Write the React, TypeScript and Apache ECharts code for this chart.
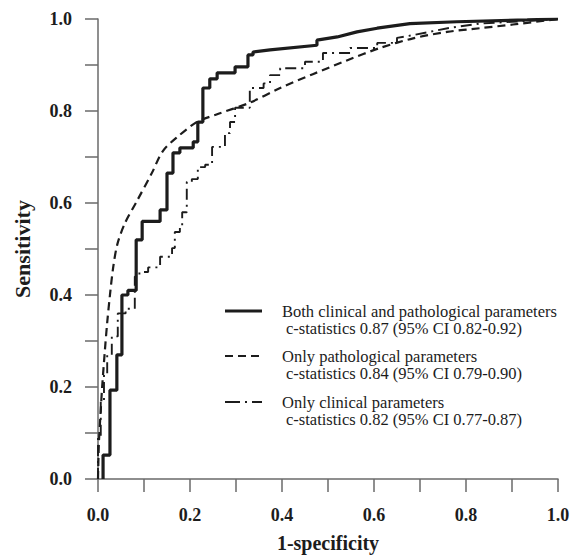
import React, { useEffect, useRef } from "react";
import * as echarts from "echarts";

const bothX = [0.011, 0.011, 0.026, 0.026, 0.041, 0.041, 0.052, 0.052, 0.065, 0.065, 0.083, 0.083, 0.096, 0.096, 0.135, 0.135, 0.15, 0.15, 0.163, 0.163, 0.178, 0.178, 0.207, 0.207, 0.217, 0.217, 0.228, 0.228, 0.243, 0.243, 0.259, 0.259, 0.298, 0.298, 0.326, 0.326, 0.337, 0.337, 0.374, 0.476, 0.476, 0.52, 0.563, 0.607, 0.678, 0.78, 0.933, 1.0];
const bothY = [0.0, 0.052, 0.052, 0.193, 0.193, 0.27, 0.27, 0.4, 0.4, 0.41, 0.41, 0.52, 0.52, 0.56, 0.56, 0.585, 0.585, 0.665, 0.665, 0.709, 0.709, 0.72, 0.72, 0.733, 0.733, 0.776, 0.776, 0.85, 0.85, 0.87, 0.87, 0.883, 0.883, 0.896, 0.896, 0.922, 0.922, 0.928, 0.933, 0.943, 0.954, 0.961, 0.972, 0.98, 0.99, 0.994, 0.998, 1.0];

const pathX = [0.0, 0.002, 0.006, 0.009, 0.015, 0.02, 0.026, 0.033, 0.042, 0.058, 0.085, 0.117, 0.141, 0.172, 0.215, 0.259, 0.33, 0.396, 0.467, 0.541, 0.613, 0.685, 0.759, 0.83, 0.902, 1.0];
const pathY = [0.0, 0.08, 0.15, 0.2, 0.28, 0.34, 0.4, 0.46, 0.51, 0.555, 0.605, 0.665, 0.713, 0.743, 0.776, 0.793, 0.818, 0.85, 0.88, 0.91, 0.937, 0.958, 0.972, 0.98, 0.988, 1.0];

const clinX = [0.0, 0.0, 0.006, 0.006, 0.013, 0.013, 0.02, 0.02, 0.03, 0.03, 0.043, 0.043, 0.06, 0.06, 0.08, 0.08, 0.09, 0.09, 0.109, 0.109, 0.135, 0.135, 0.161, 0.161, 0.167, 0.167, 0.178, 0.178, 0.183, 0.183, 0.193, 0.193, 0.204, 0.204, 0.217, 0.217, 0.233, 0.233, 0.248, 0.248, 0.276, 0.276, 0.287, 0.287, 0.298, 0.298, 0.33, 0.33, 0.36, 0.36, 0.374, 0.374, 0.396, 0.396, 0.45, 0.45, 0.489, 0.489, 0.548, 0.548, 0.607, 0.607, 0.65, 0.65, 0.685, 0.72, 0.76, 0.83, 0.9, 1.0];
const clinY = [0.0, 0.09, 0.09, 0.17, 0.17, 0.23, 0.23, 0.27, 0.27, 0.31, 0.31, 0.36, 0.36, 0.37, 0.37, 0.44, 0.44, 0.45, 0.45, 0.46, 0.46, 0.483, 0.483, 0.502, 0.502, 0.537, 0.537, 0.548, 0.548, 0.58, 0.58, 0.646, 0.646, 0.652, 0.652, 0.678, 0.678, 0.683, 0.683, 0.722, 0.722, 0.752, 0.752, 0.776, 0.776, 0.807, 0.807, 0.85, 0.85, 0.86, 0.86, 0.878, 0.878, 0.893, 0.893, 0.907, 0.907, 0.926, 0.926, 0.937, 0.937, 0.948, 0.948, 0.959, 0.965, 0.972, 0.98, 0.99, 0.994, 1.0];

const legendTitles = [
  "Both clinical and pathological parameters",
  "Only pathological parameters",
  "Only clinical parameters",
];
const legendStats = [
  "c-statistics 0.87 (95% CI 0.82-0.92)",
  "c-statistics 0.84 (95% CI 0.79-0.90)",
  "c-statistics 0.82 (95% CI 0.77-0.87)",
];

const SERIF = '"Liberation Serif", "Times New Roman", Times, serif';
const INK = "#1c1c1c";

const zip = (xs: number[], ys: number[]) => xs.map((x, i) => [x, ys[i]]);

export default function App() {
  const ref = useRef<HTMLDivElement>(null);
  useEffect(() => {
    if (!ref.current) return;
    const chart = echarts.init(ref.current, undefined, { renderer: "svg" });
    const lineStyles: any[] = [
      { width: 3.2, type: "solid" },
      { width: 2.2, type: [8, 5] },
      { width: 1.9, type: [11, 5, 2, 5] },
    ];
    const legendRows = [311, 356, 402];
    const graphic: any[] = [];
    legendRows.forEach((y, i) => {
      graphic.push({
        type: "line",
        shape: { x1: 225, y1: y, x2: 262, y2: y },
        style: {
          stroke: INK,
          lineWidth: i === 0 ? 3 : 2,
          lineDash: i === 0 ? null : i === 1 ? [8, 5] : [15, 5, 2, 5],
        },
      });
      graphic.push({
        type: "text",
        x: 282,
        y: y,
        style: {
          text: legendTitles[i],
          font: `16.5px ${SERIF}`,
          fill: INK,
          verticalAlign: "middle",
        },
      });
      graphic.push({
        type: "text",
        x: 286,
        y: y + 17.5,
        style: {
          text: legendStats[i],
          font: `16.5px ${SERIF}`,
          fill: INK,
          verticalAlign: "middle",
        },
      });
    });

    const axisCommon = (name: string, isY: boolean): any => ({
      type: "value",
      min: 0,
      max: 1,
      interval: 0.1,
      name,
      nameLocation: "middle",
      nameGap: isY ? 65 : 54,
      nameTextStyle: {
        fontFamily: SERIF,
        fontWeight: "bold",
        fontSize: isY ? 22 : 20,
        color: INK,
      },
      axisLine: { show: true, lineStyle: { color: "#6a6a6a", width: 1.5 } },
      axisTick: {
        show: true,
        inside: false,
        length: 13,
        lineStyle: { color: "#6a6a6a", width: 1.5 },
      },
      splitLine: { show: false },
      axisLabel: {
        margin: isY ? 26 : 27,
        fontFamily: SERIF,
        fontWeight: "bold",
        fontSize: 18,
        color: INK,
        formatter: (v: number) => {
          const k = Math.round(v * 10);
          return k % 2 === 0 ? v.toFixed(1) : "";
        },
      },
    });

    chart.setOption({
      animation: false,
      backgroundColor: "#ffffff",
      grid: { left: 98, top: 19, width: 460, height: 460, containLabel: false, outerBoundsMode: "none" },
      xAxis: axisCommon("1-specificity", false),
      yAxis: axisCommon("Sensitivity", true),
      series: [
        { type: "line", data: zip(bothX, bothY), showSymbol: false, lineStyle: { color: INK, ...lineStyles[0] }, z: 3 },
        { type: "line", data: zip(pathX, pathY), showSymbol: false, smooth: 0.3, lineStyle: { color: INK, ...lineStyles[1] }, z: 2 },
        { type: "line", data: zip(clinX, clinY), showSymbol: false, lineStyle: { color: INK, ...lineStyles[2] }, z: 2 },
      ],
      graphic,
    });
    return () => chart.dispose();
  }, []);
  return (
    <div
      ref={ref}
      style={{ position: "fixed", left: 0, top: 0, width: 571, height: 555, background: "#fff" }}
    />
  );
}
